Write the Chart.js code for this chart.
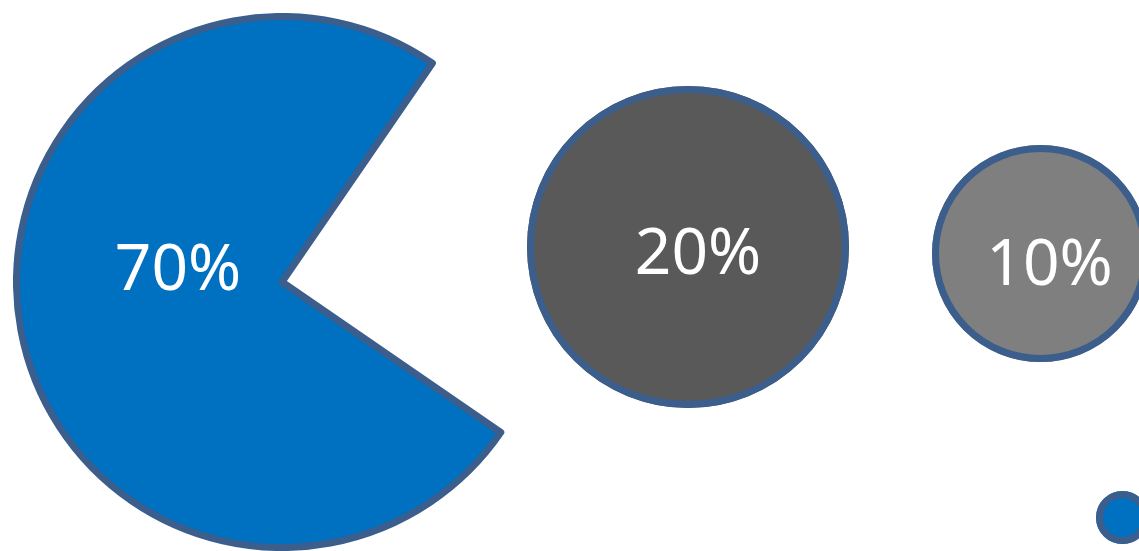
<!DOCTYPE html>
<html lang="en">
<head>
    <meta charset="UTF-8">
    <title>shares</title>
    <script src="https://cdn.jsdelivr.net/npm/chart.js"></script>
    <style>
        html, body { margin: 0; padding: 0; background: #ffffff; }
        body { width: 1139px; height: 551px; overflow: hidden; position: relative; }
        .box { position: absolute; }
    </style>
</head>
<body>
    <div class="box" id="b0"><canvas id="c0"></canvas></div>
    <div class="box" id="b1"><canvas id="c1"></canvas></div>
    <div class="box" id="b2"><canvas id="c2"></canvas></div>
    <div class="box" id="b3"><canvas id="c3"></canvas></div>
    <div class="box" id="b4"><canvas id="c4"></canvas></div>

    <script>
        // data
        const categories = ["A", "B", "C"];
        const shares = [70, 20, 10];
        const labels = shares.map(v => v + "%");
        // the big one is drawn as a pie with a wedge cut out (filled part, gap)
        const pacmanSlices = [75, 25];
        const colors = ["#0070C0", "#595959", "#7F7F7F"];
        const outline = "#3B5E8C";
        const outlineWidth = 7;

        // where each chart sits on the page: centre x, centre y, outer radius
        const boxes = [
            { cx: 282, cy: 282, r: 269 },
            { cx: 688, cy: 247, r: 161 },
            { cx: 1040, cy: 253.5, r: 108.5 },
            { cx: 1122, cy: 517.5, r: 26.5 },   // legend markers, mostly off the page
            { cx: 1122, cy: 577, r: 26.5 }
        ];
        // label baseline relative to chart centre
        const labelShift = [
            { dx: -104, dy: 8 },
            { dx: 10, dy: 27 },
            { dx: 9, dy: 31.5 }
        ];

        boxes.forEach((b, i) => {
            const el = document.getElementById("b" + i);
            el.style.left = (b.cx - b.r) + "px";
            el.style.top = (b.cy - b.r) + "px";
            el.style.width = (2 * b.r) + "px";
            el.style.height = (2 * b.r) + "px";
        });

        // outline ring for the whole circles (a one-slice pie would get a radius line)
        // and the white percentage label
        const decoPlugin = {
            id: "deco",
            afterDatasetsDraw(chart, args, opts) {
                const arc = chart.getDatasetMeta(0).data[0];
                const ctx = chart.ctx;
                ctx.save();
                if (opts.ring) {
                    ctx.strokeStyle = outline;
                    ctx.lineWidth = outlineWidth;
                    ctx.beginPath();
                    ctx.arc(arc.x, arc.y, arc.outerRadius - outlineWidth / 2, 0, Math.PI * 2);
                    ctx.stroke();
                }
                if (opts.text) {
                    ctx.fillStyle = "#ffffff";
                    ctx.font = "64px 'Noto Sans'";
                    ctx.textAlign = "center";
                    ctx.textBaseline = "alphabetic";
                    ctx.fillText(opts.text, arc.x + opts.dx, arc.y + opts.dy);
                }
                ctx.restore();
            }
        };

        function makePie(id, values, bg, borders, rotation, deco) {
            new Chart(document.getElementById(id), {
                type: "pie",
                data: {
                    labels: values.map((v, i) => categories[i] || ""),
                    datasets: [{
                        data: values,
                        backgroundColor: bg,
                        borderColor: outline,
                        borderWidth: borders,
                        borderJoinStyle: "round",
                        hoverOffset: 0,
                        offset: 0
                    }]
                },
                options: {
                    responsive: true,
                    maintainAspectRatio: false,
                    animation: false,
                    events: [],
                    rotation: rotation,
                    layout: { padding: 0 },
                    plugins: {
                        legend: { display: false },
                        tooltip: { enabled: false },
                        deco: deco
                    }
                },
                plugins: [decoPlugin]
            });
        }

        makePie("c0", pacmanSlices, [colors[0], "rgba(0,0,0,0)"], [outlineWidth, 0], 124.5,
            { text: labels[0], dx: labelShift[0].dx, dy: labelShift[0].dy });
        makePie("c1", [shares[1]], [colors[1]], [0], 0,
            { ring: true, text: labels[1], dx: labelShift[1].dx, dy: labelShift[1].dy });
        makePie("c2", [shares[2]], [colors[2]], [0], 0,
            { ring: true, text: labels[2], dx: labelShift[2].dx, dy: labelShift[2].dy });
        makePie("c3", [1], [colors[0]], [0], 0, { ring: true });
        makePie("c4", [1], [colors[1]], [0], 0, { ring: true });
    </script>
</body>
</html>
